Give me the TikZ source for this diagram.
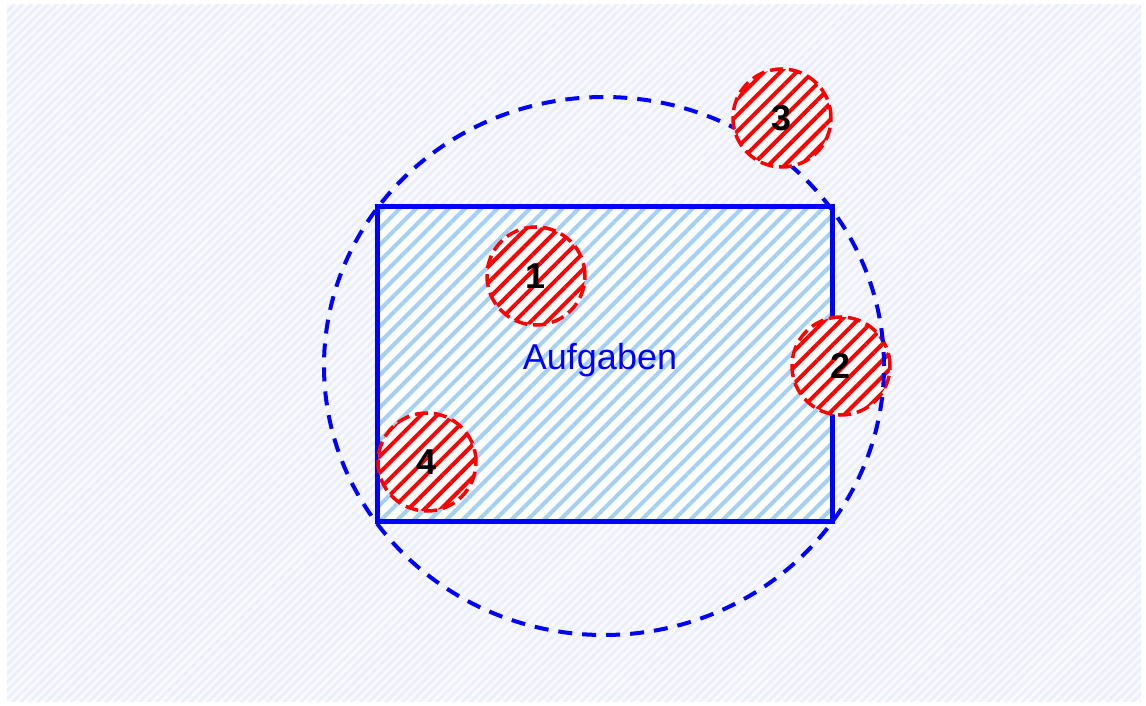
\documentclass[tikz,border=0pt]{standalone}
\usepackage{fontspec}
\setmainfont{Liberation Sans}
\usetikzlibrary{patterns.meta,shapes.geometric}
\definecolor{hatchblue}{RGB}{165,208,245}
\definecolor{bghatch}{RGB}{236,239,251}
\definecolor{bgfill}{RGB}{249,250,254}
\tikzset{
  bgarea/.style={preaction={fill=bgfill}, pattern={Lines[angle=45,distance=6pt,line width=2.8pt]}, pattern color=bghatch},
  taskbox/.style={rectangle, inner sep=0pt, minimum width=455pt, minimum height=315pt,
    draw=blue, line width=5pt, preaction={fill=white},
    pattern={Lines[angle=45,distance=11.5pt,line width=4pt]}, pattern color=hatchblue},
  scopering/.style={ellipse, inner sep=0pt, minimum width=560pt, minimum height=538pt,
    draw=blue, line width=4pt, dash pattern=on 14pt off 10pt},
  risk/.style={circle, inner sep=0pt, minimum size=98pt, draw=red, line width=3.5pt,
    dash pattern=on 13pt off 6pt, preaction={fill=white},
    pattern={Lines[angle=45,distance=11.5pt,line width=4pt]}, pattern color=red,
    font=\bfseries\fontsize{36}{36}\selectfont, text=black},
  tasklabel/.style={font=\fontsize{36}{36}\selectfont, text=blue, anchor=base, inner sep=0pt}
}
\begin{document}
\begin{tikzpicture}[x=1pt,y=-1pt]
\useasboundingbox (0,0) rectangle (1146,706);
\fill[white] (0,0) rectangle (1146,706);
\path[bgarea] (7,5) rectangle (1141,701);
\node[taskbox] (task) at (604.5,363.5) {};
\node[tasklabel] (tasktext) at (600,369) {Aufgaben};
\node[risk] (r1) at (536,276) {1};
\node[risk] (r2) at (841,366) {2};
\node[risk] (r4) at (427,462) {4};
\node[scopering] (scope) at (604,366) {};
\node[risk] (r3) at (782,118) {3};
\end{tikzpicture}
\end{document}
